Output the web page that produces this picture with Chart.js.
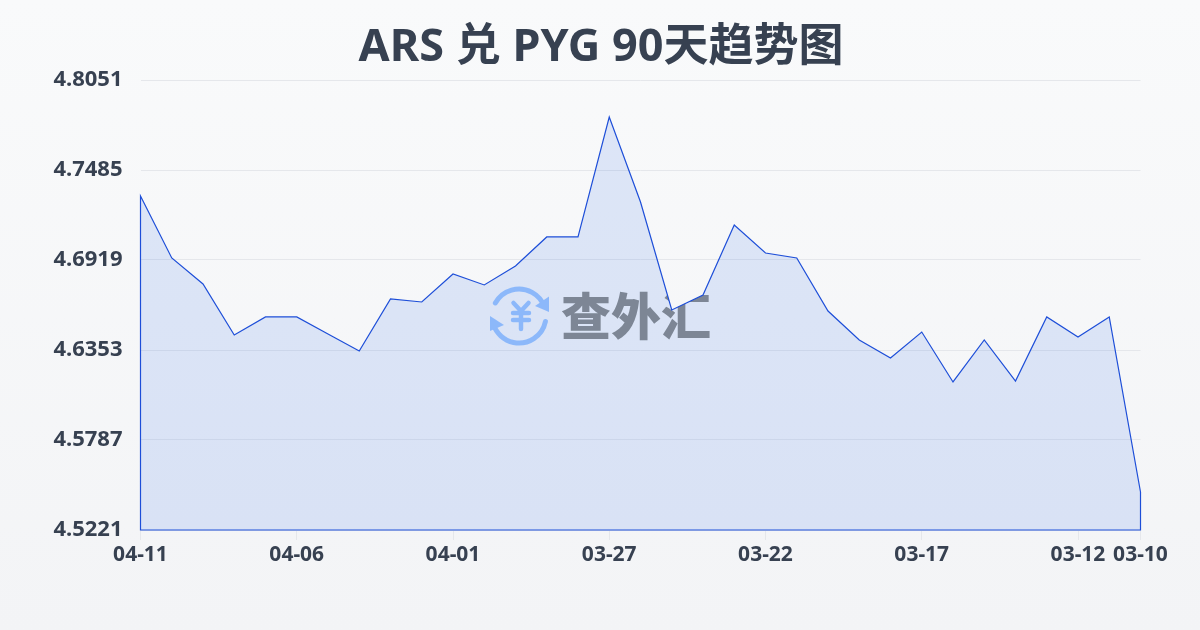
<!DOCTYPE html>
<html>
<head>
<meta charset="utf-8">
<script src="https://cdn.jsdelivr.net/npm/chart.js@4"></script>
<style>
html, body { margin: 0; padding: 0; }
body { width: 1200px; height: 630px; overflow: hidden; background: linear-gradient(180deg, #f9fafb, #f3f4f6); }
canvas { display: block; }
</style>
</head>
<body>
<canvas id="myChart" width="1200" height="630"></canvas>
<script>
const dates = ['04-11','04-10','04-09','04-08','04-07','04-06','04-05','04-04','04-03','04-02','04-01',
    '03-31','03-30','03-29','03-28','03-27','03-26','03-25','03-24','03-23','03-22',
    '03-21','03-20','03-19','03-18','03-17','03-16','03-15','03-14','03-13','03-12','03-11','03-10'];
const rates = [4.7321,4.6932,4.6768,4.6447,4.6561,4.6561,4.6454,4.6347,4.6674,4.6655,4.6831,
    4.6762,4.6881,4.7064,4.7064,4.7818,4.7284,4.6605,4.6699,4.7139,4.6963,
    4.6932,4.6598,4.6416,4.6303,4.6466,4.6152,4.6416,4.6158,4.6561,4.6435,4.6561,4.5460];
const yTicks = [4.5221,4.5787,4.6353,4.6919,4.7485,4.8051];
const shownDates = ['04-11','04-06','04-01','03-27','03-22','03-17','03-12','03-10'];

const inkColor = '#374151';
const lineColor = '#1d4ed8';
const fontFamily = '"Noto Sans", "Noto Sans CJK SC", sans-serif';

// walks the area shape: along the data, then back along the baseline
function areaPath(chart, c) {
    const x = chart.scales.x;
    const y = chart.scales.y;
    c.beginPath();
    rates.forEach((v, i) => c.lineTo(x.getPixelForValue(i), y.getPixelForValue(v)));
    c.lineTo(x.getPixelForValue(rates.length - 1), y.bottom);
    c.lineTo(x.getPixelForValue(0), y.bottom);
    c.closePath();
}

// watermark only shows inside the area, and the line runs over it
const watermark = {
    id: 'watermark',
    beforeDatasetsDraw(chart) {
        const c = chart.ctx;
        c.save();
        areaPath(chart, c);
        c.clip();
        c.strokeStyle = '#9cc5fd';
        c.fillStyle = '#9cc5fd';
        c.lineWidth = 5;
        c.lineCap = 'round';
        c.beginPath();
        c.arc(519, 316, 27, Math.PI * 1.16, Math.PI * 1.88);
        c.stroke();
        c.beginPath();
        c.arc(519, 316, 27, Math.PI * 0.065, Math.PI * 0.9);
        c.stroke();
        c.beginPath();
        c.moveTo(549, 296.5); c.lineTo(549, 312); c.lineTo(535, 306);
        c.closePath();
        c.fill();
        c.beginPath();
        c.moveTo(490, 316); c.lineTo(490, 331); c.lineTo(504, 325);
        c.closePath();
        c.fill();
        // yen sign of the logo
        c.lineWidth = 4.5;
        c.beginPath();
        c.moveTo(513.5, 303); c.lineTo(521, 311); c.lineTo(528.5, 303);
        c.moveTo(521, 311); c.lineTo(521, 329);
        c.moveTo(513, 313); c.lineTo(529, 313);
        c.moveTo(513, 320); c.lineTo(529, 320);
        c.stroke();
        c.fillStyle = '#8a8c89';
        c.font = '900 50px "Noto Sans CJK SC"';
        c.textAlign = 'left';
        c.textBaseline = 'middle';
        c.fillText('查外汇', 561, 316);
        c.restore();
    }
};

// the area outline is closed down the sides and along the bottom
const outline = {
    id: 'outline',
    afterDatasetsDraw(chart) {
        const c = chart.ctx;
        c.save();
        c.strokeStyle = lineColor;
        c.lineWidth = 1.2;
        areaPath(chart, c);
        c.stroke();
        c.restore();
    }
};

new Chart(document.getElementById('myChart'), {
    type: 'line',
    data: {
        labels: dates,
        datasets: [{
            data: rates,
            yAxisID: 'y',
            borderWidth: 0,
            backgroundColor: 'rgba(37, 99, 235, 0.13)',
            fill: 'start',
            pointRadius: 0,
            tension: 0
        }]
    },
    options: {
        responsive: false,
        animation: false,
        layout: { padding: { left: 2 } },
        plugins: {
            legend: { display: false },
            tooltip: { enabled: false },
            title: {
                display: true,
                text: 'ARS 兑 PYG 90天趋势图',
                color: inkColor,
                font: { family: fontFamily, size: 45, weight: 'bold' },
                padding: { top: 21, bottom: 5 }
            }
        },
        scales: {
            x: {
                type: 'category',
                offset: false,
                border: { display: false },
                grid: { drawOnChartArea: false, drawTicks: true, tickLength: 10, color: '#e5e7eb' },
                afterBuildTicks(axis) {
                    axis.ticks = axis.ticks.filter(t => shownDates.includes(dates[t.value]));
                },
                ticks: {
                    autoSkip: false,
                    maxRotation: 0,
                    color: inkColor,
                    padding: 2,
                    font: { family: fontFamily, size: 21, weight: 'bold' }
                },
                afterFit(axis) { axis.height = 100; }
            },
            y: {
                min: yTicks[0],
                max: yTicks[yTicks.length - 1],
                border: { display: false },
                grid: { drawTicks: false, color: '#e5e7eb' },
                afterBuildTicks(axis) {
                    axis.ticks = yTicks.map(v => ({ value: v }));
                },
                ticks: {
                    color: inkColor,
                    padding: 18,
                    font: { family: fontFamily, size: 22, weight: 'bold' },
                    callback: v => v.toFixed(4)
                },
                afterFit(axis) { axis.width = 138.5; }
            },
            // empty axis, only keeps the right margin so the title stays centred on the page
            spacer: {
                type: 'linear',
                position: 'right',
                border: { display: false },
                grid: { display: false },
                ticks: { display: false },
                afterFit(axis) { axis.width = 59.5; }
            }
        }
    },
    plugins: [watermark, outline]
});
</script>
</body>
</html>
